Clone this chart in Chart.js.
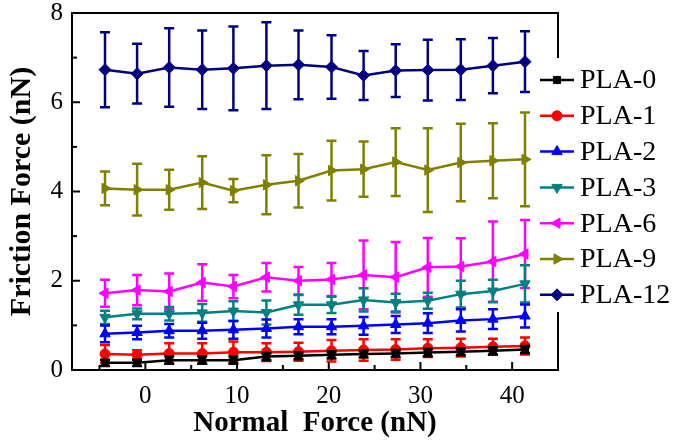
<!DOCTYPE html>
<html>
<head>
<meta charset="utf-8">
<script src="https://cdn.jsdelivr.net/npm/chart.js@4/dist/chart.umd.min.js"></script>
<style>
  html, body { margin: 0; padding: 0; background: #fff; }
  canvas { display: block; }
</style>
</head>
<body>
<canvas id="frictionChart" width="675" height="441"></canvas>
<script>
// normal force (nN) at each measuring point
const normalForce = [-4.4, -0.9, 2.6, 6.2, 9.6, 13.2, 16.7, 20.3, 23.8, 27.3, 30.8, 34.4, 37.9, 41.4];

const seriesNames = ['PLA-0', 'PLA-1', 'PLA-2', 'PLA-3', 'PLA-6', 'PLA-9', 'PLA-12'];

const pla0 = [0.16, 0.16, 0.22, 0.22, 0.22, 0.30, 0.32, 0.34, 0.36, 0.37, 0.39, 0.41, 0.43, 0.46];
const pla0Err = [0.07, 0.07, 0.08, 0.08, 0.08, 0.08, 0.08, 0.08, 0.08, 0.08, 0.08, 0.08, 0.08, 0.08];

const pla1 = [0.36, 0.34, 0.37, 0.37, 0.40, 0.40, 0.41, 0.43, 0.45, 0.46, 0.49, 0.50, 0.52, 0.54];
const pla1Err = [0.20, 0.10, 0.23, 0.23, 0.24, 0.20, 0.20, 0.24, 0.24, 0.23, 0.20, 0.20, 0.18, 0.19];

const pla2 = [0.81, 0.84, 0.88, 0.88, 0.90, 0.93, 0.97, 0.97, 0.99, 1.02, 1.05, 1.11, 1.14, 1.21];
const pla2Err = [0.19, 0.15, 0.15, 0.18, 0.20, 0.20, 0.17, 0.17, 0.20, 0.19, 0.22, 0.25, 0.22, 0.26];

const pla3 = [1.18, 1.26, 1.26, 1.28, 1.32, 1.29, 1.46, 1.46, 1.57, 1.51, 1.55, 1.70, 1.77, 1.93];
const pla3Err = [0.15, 0.12, 0.15, 0.20, 0.22, 0.27, 0.22, 0.18, 0.26, 0.20, 0.18, 0.30, 0.25, 0.42];

const pla6 = [1.72, 1.79, 1.76, 1.96, 1.87, 2.08, 2.00, 2.03, 2.13, 2.08, 2.30, 2.32, 2.43, 2.60];
const pla6Err = [0.30, 0.34, 0.40, 0.41, 0.26, 0.32, 0.31, 0.37, 0.77, 0.79, 0.66, 0.63, 0.90, 0.76];

const pla9 = [4.07, 4.04, 4.04, 4.20, 4.02, 4.15, 4.24, 4.47, 4.50, 4.66, 4.48, 4.65, 4.69, 4.72];
const pla9Err = [0.38, 0.58, 0.45, 0.59, 0.26, 0.66, 0.60, 0.67, 0.62, 0.76, 0.94, 0.87, 0.84, 1.05];

const pla12 = [6.73, 6.64, 6.78, 6.73, 6.76, 6.82, 6.84, 6.79, 6.60, 6.71, 6.72, 6.73, 6.82, 6.91];
const pla12Err = [0.84, 0.67, 0.88, 0.88, 0.94, 0.97, 0.77, 0.71, 0.55, 0.59, 0.68, 0.68, 0.62, 0.68];

const xTickLabels = [0, 10, 20, 30, 40];
const yTickLabels = [0, 2, 4, 6, 8];

const SERIF = '"Liberation Serif", "Times New Roman", serif';

const seriesValues = [pla0, pla1, pla2, pla3, pla6, pla9, pla12];
const seriesErrors = [pla0Err, pla1Err, pla2Err, pla3Err, pla6Err, pla9Err, pla12Err];
const seriesColors = ['#000000', '#ff0000', '#0000ff', '#008080', '#ff00ff', '#808000', '#000080'];
const seriesMarkers = [
  { style: 'rect', radius: 5, rotation: 0 },
  { style: 'circle', radius: 5, rotation: 0 },
  { style: 'triangle', radius: 6, rotation: 0 },
  { style: 'triangle', radius: 6, rotation: 180 },
  { style: 'triangle', radius: 6, rotation: -90 },
  { style: 'triangle', radius: 6, rotation: 90 },
  { style: 'rectRot', radius: 6, rotation: 0 }
];

const datasets = seriesNames.map((name, i) => ({
  label: name,
  data: normalForce.map((x, j) => ({ x: x, y: seriesValues[i][j] })),
  errors: seriesErrors[i],
  borderColor: seriesColors[i],
  backgroundColor: seriesColors[i],
  borderWidth: 2.5,
  pointStyle: seriesMarkers[i].style,
  pointRadius: seriesMarkers[i].radius,
  pointRotation: seriesMarkers[i].rotation,
  pointBorderWidth: 1,
  tension: 0
}));

// error bars, drawn just before each series so layering follows the series order
const errorBars = {
  id: 'errorBars',
  beforeDatasetDraw(chart, args) {
    const ds = chart.data.datasets[args.index];
    const { ctx, scales: { x, y } } = chart;
    ctx.save();
    ctx.strokeStyle = ds.borderColor;
    ctx.lineWidth = 2.5;
    ds.data.forEach((p, j) => {
      const px = x.getPixelForValue(p.x);
      const top = y.getPixelForValue(p.y + ds.errors[j]);
      const bot = y.getPixelForValue(p.y - ds.errors[j]);
      ctx.beginPath();
      ctx.moveTo(px, top); ctx.lineTo(px, bot);
      ctx.moveTo(px - 5, top); ctx.lineTo(px + 5, top);
      ctx.moveTo(px - 5, bot); ctx.lineTo(px + 5, bot);
      ctx.stroke();
    });
    ctx.restore();
  }
};

// inward ticks, top/right frame and the legend box
const frame = {
  id: 'frame',
  afterDraw(chart) {
    const { ctx, chartArea: a, scales: { x, y } } = chart;
    ctx.save();
    ctx.strokeStyle = '#000';
    ctx.lineWidth = 2;
    x.ticks.forEach(t => {
      const px = x.getPixelForValue(t.value);
      const len = xTickLabels.includes(t.value) ? 8 : 5;
      ctx.beginPath(); ctx.moveTo(px, a.bottom); ctx.lineTo(px, a.bottom - len); ctx.stroke();
    });
    y.ticks.forEach(t => {
      const py = y.getPixelForValue(t.value);
      const len = yTickLabels.includes(t.value) ? 8 : 5;
      ctx.beginPath(); ctx.moveTo(a.left, py); ctx.lineTo(a.left + len, py); ctx.stroke();
    });
    ctx.beginPath();
    ctx.moveTo(a.left, a.top);
    ctx.lineTo(a.right, a.top);
    ctx.lineTo(a.right, a.bottom);
    ctx.stroke();

    // legend
    ctx.fillStyle = '#fff';
    ctx.fillRect(535, 58, 140, 254);
    ctx.font = '28px ' + SERIF;
    ctx.textBaseline = 'middle';
    chart.data.datasets.forEach((ds, i) => {
      const ly = 80 + i * 35.8;
      ctx.strokeStyle = ds.borderColor;
      ctx.lineWidth = 2.5;
      ctx.beginPath(); ctx.moveTo(540, ly); ctx.lineTo(574, ly); ctx.stroke();
      ctx.fillStyle = ds.backgroundColor;
      ctx.lineWidth = 1;
      Chart.helpers.drawPoint(ctx, {
        pointStyle: ds.pointStyle, radius: ds.pointRadius,
        rotation: ds.pointRotation, borderWidth: 1
      }, 557, ly);
      ctx.fillStyle = '#000';
      ctx.fillText(ds.label, 580, ly + 1);
    });
    ctx.restore();
  }
};

new Chart(document.getElementById('frictionChart').getContext('2d'), {
  type: 'line',
  data: { datasets: datasets },
  options: {
    responsive: false,
    animation: false,
    devicePixelRatio: 1,
    layout: { padding: { top: 13, right: 117, left: 0, bottom: 0 } },
    plugins: { legend: { display: false }, tooltip: { enabled: false } },
    scales: {
      x: {
        type: 'linear',
        min: -8,
        max: 45,
        grid: { display: false, drawTicks: false },
        border: { display: true, color: '#000', width: 2 },
        ticks: {
          stepSize: 5,
          includeBounds: false,
          autoSkip: false,
          maxRotation: 0,
          padding: 11,
          color: '#000',
          font: { family: SERIF, size: 25 },
          callback: v => (xTickLabels.includes(v) ? String(v) : '')
        },
        title: {
          display: true,
          text: 'Normal  Force (nN)',
          color: '#000',
          font: { family: SERIF, size: 29, weight: 'bold' },
          padding: { top: 0, bottom: 0 }
        },
        afterFit: s => { s.height = 71; s.paddingLeft = 0; s.paddingRight = 0; }
      },
      y: {
        min: 0,
        max: 8,
        grid: { display: false, drawTicks: false },
        border: { display: true, color: '#000', width: 2 },
        ticks: {
          stepSize: 1,
          autoSkip: false,
          padding: 9,
          color: '#000',
          font: { family: SERIF, size: 25 },
          callback: v => (yTickLabels.includes(v) ? String(v) : '')
        },
        title: {
          display: true,
          text: 'Friction Force (nN)',
          color: '#000',
          font: { family: SERIF, size: 30, weight: 'bold' },
          padding: { top: 4, bottom: 0 }
        },
        afterFit: s => { s.width = 72; s.paddingTop = 0; s.paddingBottom = 0; }
      }
    }
  },
  plugins: [errorBars, frame]
});
</script>
</body>
</html>
